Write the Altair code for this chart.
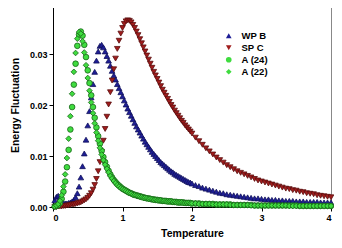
import altair as alt
import pandas as pd

temperature = [
    0.025, 0.05, 0.075, 0.1, 0.125, 0.15, 0.175, 0.2, 0.225, 0.25,
    0.275, 0.3, 0.325, 0.35, 0.375, 0.4, 0.425, 0.45, 0.475, 0.5,
    0.525, 0.55, 0.575, 0.6, 0.625, 0.65, 0.675, 0.7, 0.725, 0.75,
    0.775, 0.8, 0.825, 0.85, 0.875, 0.9, 0.925, 0.95, 0.975, 1.0,
    1.025, 1.05, 1.075, 1.1, 1.125, 1.15, 1.175, 1.2, 1.225, 1.25,
    1.275, 1.3, 1.325, 1.35, 1.375, 1.4, 1.425, 1.45, 1.475, 1.5,
    1.525, 1.55, 1.575, 1.6, 1.625, 1.65, 1.675, 1.7, 1.725, 1.75,
    1.775, 1.8, 1.825, 1.85, 1.875, 1.9, 1.925, 1.95, 1.975, 2.0,
    2.05, 2.1, 2.15, 2.2, 2.25, 2.3, 2.35, 2.4, 2.45, 2.5,
    2.55, 2.6, 2.65, 2.7, 2.75, 2.8, 2.85, 2.9, 2.95, 3.0,
    3.05, 3.1, 3.15, 3.2, 3.25, 3.3, 3.35, 3.4, 3.45, 3.5,
    3.55, 3.6, 3.65, 3.7, 3.75, 3.8, 3.85, 3.9, 3.95, 4.0,
]

wp_b = [
    0.0013, 0.0020, 0.0022, 0.0017, 0.0011, 0.0008, 0.0007, 0.0007, 0.0008, 0.0009,
    0.0011, 0.0014, 0.0019, 0.0027, 0.0040, 0.0058, 0.0080, 0.0105, 0.0132, 0.0160,
    0.0188, 0.0215, 0.0241, 0.0265, 0.0287, 0.0305, 0.0316, 0.0318, 0.0313, 0.0305,
    0.0296, 0.0287, 0.0277, 0.0267, 0.0258, 0.0250, 0.0241, 0.0233, 0.0225, 0.0217,
    0.0209, 0.0201, 0.0193, 0.0186, 0.0179, 0.0172, 0.0165, 0.0158, 0.0152, 0.0146,
    0.0140, 0.0134, 0.0128, 0.0123, 0.0118, 0.0113, 0.0108, 0.0104, 0.0100, 0.0096,
    0.0092, 0.0088, 0.0085, 0.0082, 0.0079, 0.0076, 0.0073, 0.0070, 0.0068, 0.0065,
    0.0063, 0.0061, 0.0059, 0.0057, 0.0055, 0.0053, 0.0051, 0.0049, 0.0048, 0.0046,
    0.0043, 0.0041, 0.0038, 0.0036, 0.0034, 0.0032, 0.0030, 0.0028, 0.0027, 0.0025,
    0.0024, 0.0023, 0.0022, 0.0021, 0.0020, 0.0019, 0.0018, 0.0017, 0.0017, 0.0016,
    0.0015, 0.0015, 0.0014, 0.0014, 0.0013, 0.0013, 0.0012, 0.0012, 0.0012, 0.0011,
    0.0011, 0.0011, 0.0010, 0.0010, 0.0010, 0.0010, 0.0009, 0.0009, 0.0009, 0.0009,
]

sp_c = [
    0.0000, 0.0000, 0.0001, 0.0001, 0.0001, 0.0002, 0.0002, 0.0003, 0.0003, 0.0004,
    0.0005, 0.0005, 0.0006, 0.0007, 0.0008, 0.0009, 0.0011, 0.0013, 0.0015, 0.0018,
    0.0022, 0.0027, 0.0034, 0.0043, 0.0055, 0.0070, 0.0088, 0.0108, 0.0130, 0.0153,
    0.0177, 0.0201, 0.0225, 0.0248, 0.0270, 0.0291, 0.0310, 0.0326, 0.0340, 0.0351,
    0.0359, 0.0364, 0.0366, 0.0365, 0.0362, 0.0357, 0.0351, 0.0344, 0.0337, 0.0329,
    0.0321, 0.0313, 0.0305, 0.0297, 0.0289, 0.0281, 0.0273, 0.0265, 0.0258, 0.0251,
    0.0244, 0.0237, 0.0230, 0.0224, 0.0218, 0.0212, 0.0206, 0.0200, 0.0195, 0.0189,
    0.0184, 0.0179, 0.0174, 0.0169, 0.0165, 0.0160, 0.0156, 0.0152, 0.0148, 0.0144,
    0.0136, 0.0129, 0.0122, 0.0115, 0.0109, 0.0103, 0.0097, 0.0092, 0.0087, 0.0082,
    0.0078, 0.0074, 0.0070, 0.0067, 0.0064, 0.0061, 0.0058, 0.0055, 0.0052, 0.0050,
    0.0048, 0.0046, 0.0044, 0.0042, 0.0040, 0.0038, 0.0036, 0.0035, 0.0033, 0.0032,
    0.0030, 0.0029, 0.0027, 0.0026, 0.0025, 0.0023, 0.0022, 0.0021, 0.0020, 0.0019,
]

a_24 = [
    0.0001, 0.0002, 0.0004, 0.0008, 0.0016, 0.0030, 0.0050, 0.0078, 0.0112, 0.0152,
    0.0196, 0.0240, 0.0281, 0.0316, 0.0338, 0.0344, 0.0336, 0.0318, 0.0294, 0.0268,
    0.0243, 0.0219, 0.0196, 0.0175, 0.0156, 0.0139, 0.0124, 0.0110, 0.0098, 0.0088,
    0.0079, 0.0071, 0.0064, 0.0058, 0.0053, 0.0049, 0.0045, 0.0042, 0.0039, 0.0036,
    0.0034, 0.0032, 0.0030, 0.0028, 0.0027, 0.0025, 0.0024, 0.0023, 0.0022, 0.0021,
    0.0020, 0.0019, 0.0018, 0.0017, 0.0017, 0.0016, 0.0015, 0.0015, 0.0014, 0.0014,
    0.0013, 0.0013, 0.0012, 0.0012, 0.0012, 0.0011, 0.0011, 0.0011, 0.0010, 0.0010,
    0.0010, 0.0009, 0.0009, 0.0009, 0.0009, 0.0008, 0.0008, 0.0008, 0.0008, 0.0007,
    0.0007, 0.0007, 0.0006, 0.0006, 0.0006, 0.0006, 0.0005, 0.0005, 0.0005, 0.0005,
    0.0005, 0.0004, 0.0004, 0.0004, 0.0004, 0.0004, 0.0004, 0.0003, 0.0003, 0.0003,
    0.0003, 0.0003, 0.0003, 0.0003, 0.0003, 0.0003, 0.0003, 0.0003, 0.0003, 0.0003,
    0.0002, 0.0002, 0.0002, 0.0002, 0.0002, 0.0002, 0.0002, 0.0002, 0.0002, 0.0002,
]

a_22 = [
    0.0001, 0.0003, 0.0006, 0.0012, 0.0023, 0.0040, 0.0064, 0.0096, 0.0134, 0.0178,
    0.0222, 0.0265, 0.0302, 0.0330, 0.0343, 0.0340, 0.0325, 0.0303, 0.0278, 0.0253,
    0.0228, 0.0205, 0.0184, 0.0164, 0.0146, 0.0130, 0.0116, 0.0103, 0.0092, 0.0083,
    0.0075, 0.0068, 0.0061, 0.0056, 0.0051, 0.0047, 0.0043, 0.0040, 0.0037, 0.0035,
    0.0033, 0.0031, 0.0029, 0.0027, 0.0026, 0.0024, 0.0023, 0.0022, 0.0021, 0.0020,
    0.0019, 0.0018, 0.0018, 0.0017, 0.0016, 0.0016, 0.0015, 0.0014, 0.0014, 0.0013,
    0.0013, 0.0013, 0.0012, 0.0012, 0.0011, 0.0011, 0.0011, 0.0011, 0.0010, 0.0010,
    0.0009, 0.0009, 0.0009, 0.0009, 0.0008, 0.0008, 0.0008, 0.0008, 0.0007, 0.0007,
    0.0007, 0.0006, 0.0006, 0.0006, 0.0006, 0.0005, 0.0005, 0.0005, 0.0005, 0.0005,
    0.0004, 0.0004, 0.0004, 0.0004, 0.0004, 0.0004, 0.0003, 0.0003, 0.0003, 0.0003,
    0.0003, 0.0003, 0.0003, 0.0003, 0.0003, 0.0003, 0.0003, 0.0002, 0.0002, 0.0002,
    0.0002, 0.0002, 0.0002, 0.0002, 0.0002, 0.0002, 0.0002, 0.0002, 0.0002, 0.0002,
]

series_names = ["WP B", "SP C", "A (24)", "A (22)"]
fill_colors = ["#1e1e96", "#a01c1c", "#3fdc3f", "#3fdc3f"]
edge_colors = ["#12125a", "#5a0e0e", "#186418", "#186418"]
shapes = ["triangle-up", "triangle-down", "circle", "diamond"]

rows = []
for name, vals in zip(series_names, [wp_b, sp_c, a_24, a_22]):
    for t, v in zip(temperature, vals):
        rows.append({"Temperature": t, "Value": v, "Series": name})
df = pd.DataFrame(rows)

legend = alt.Legend(
    title=None, orient="none", legendX=171, legendY=28,
    labelFont="Liberation Sans", labelFontWeight="bold", labelFontSize=9.5,
    labelColor="#000", symbolSize=32, labelOffset=8, rowPadding=1,
    padding=0, symbolStrokeWidth=0,
)

chart = alt.Chart(df).mark_point(filled=True, size=32, strokeWidth=0.8, opacity=1).encode(
    x=alt.X("Temperature:Q",
            scale=alt.Scale(domain=[0, 4], nice=False, zero=False),
            axis=alt.Axis(values=[0, 1, 2, 3, 4], format="d", title="Temperature",
                          titlePadding=6)),
    y=alt.Y("Value:Q",
            scale=alt.Scale(domain=[0, 0.04], nice=False),
            axis=alt.Axis(values=[0, 0.01, 0.02, 0.03, 0.04], format=".2f",
                          title="Energy Fluctuation", titlePadding=9)),
    color=alt.Color("Series:N", scale=alt.Scale(domain=series_names, range=fill_colors),
                    legend=legend),
    shape=alt.Shape("Series:N", scale=alt.Scale(domain=series_names, range=shapes),
                    legend=legend),
    stroke=alt.Stroke("Series:N", scale=alt.Scale(domain=series_names, range=edge_colors),
                      legend=None),
).properties(
    width=278, height=204,
    autosize=alt.AutoSizeParams(type="none"),
    padding={"left": 45, "top": -5, "right": 3, "bottom": 33},
).configure_view(
    stroke="#888", strokeWidth=1,
).configure_axis(
    grid=False, domainColor="#000", tickColor="#000", tickSize=4,
    labelFont="Liberation Sans", labelFontWeight="bold", labelFontSize=9,
    labelColor="#000", labelPadding=2,
    titleFont="Liberation Sans", titleFontWeight="bold", titleFontSize=10.5,
    titleColor="#000",
)

chart.save("out.html", embed_options={"renderer": "svg", "actions": False})
